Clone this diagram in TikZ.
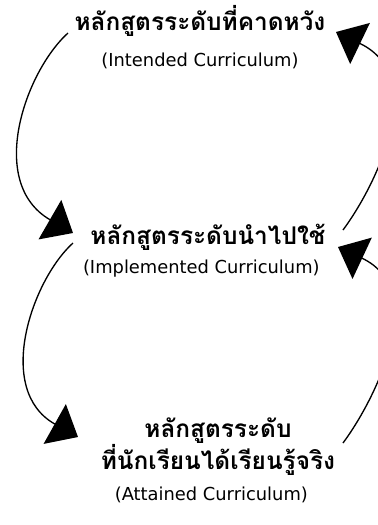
\documentclass[tikz,border=0pt]{standalone}
\usepackage{fontspec}
\setmainfont{DejaVu Sans}
\newfontfamily\thaifont[Script=Thai]{Loma}
\usepackage{tikz}
\usetikzlibrary{positioning,arrows.meta}

\begin{document}
\begin{tikzpicture}[x=0.75pt,y=-0.75pt,
  level/.style={font=\thaifont\bfseries\fontsize{18.3}{24}\selectfont, align=center, inner sep=0pt},
  engname/.style={font=\fontsize{13.4}{15}\selectfont, inner sep=0pt},
  cycle/.style={line width=1pt, -{Triangle[length=20pt,width=34pt]}}
  ]
  \useasboundingbox (0,0) rectangle (378,525);
  \clip (0,0) rectangle (378,525);
  \node[level] (intended) at (200,21) {หลักสูตรระดับที่คาดหวัง};
  \node[engname, below=12pt of intended] (intendedEn) {(Intended Curriculum)};
  \node[level] (implemented) at (208,237) {หลักสูตรระดับนำไปใช้};
  \node[engname, below=7pt of implemented, xshift=-5pt] (implementedEn) {(Implemented Curriculum)};
  \node[level] (attained) at (218,447) {หลักสูตรระดับ\\ที่นักเรียนได้เรียนรู้จริง};
  \node[engname, below=8pt of attained, xshift=-5pt] (attainedEn) {(Attained Curriculum)};
  \coordinate (l1s) at (68,33);  \coordinate (l1e) at (73,233);
  \coordinate (l2s) at (73,243); \coordinate (l2e) at (78,437);
  \coordinate (r1s) at (343,443); \coordinate (r1e) at (338,247);
  \coordinate (r2s) at (343,230); \coordinate (r2e) at (336,32);
  \draw[cycle] (l1s) .. controls +(-43,39) and +(-86.6,-50) .. (l1e);
  \draw[cycle] (l2s) .. controls +(-41,37) and +(-84,-47) .. (l2e);
  \draw[cycle] (r1s) .. controls +(32,-43) and +(92,43) .. (r1e);
  \draw[cycle] (r2s) .. controls +(32,-43) and +(94,45) .. (r2e);
\end{tikzpicture}
\end{document}
